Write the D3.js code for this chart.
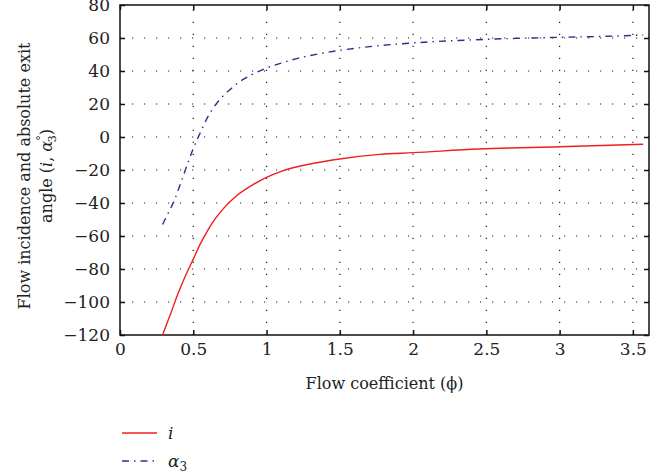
<!DOCTYPE html>
<html>
<head>
<meta charset="utf-8">
<script src="https://cdn.jsdelivr.net/npm/d3@7"></script>
<style>
	body { margin: 0; background: #fff; }
	text { font-family: "DejaVu Serif", serif; fill: #222; }
</style>
</head>
<body>
<div id="container"></div>
<script>
// values
var phiI = [0.29, 0.35, 0.40, 0.45, 0.50, 0.55, 0.60, 0.65, 0.70, 0.75, 0.80, 0.90, 1.00, 1.10, 1.23, 1.45, 1.77, 2.0, 2.45, 3.0, 3.57];
var incidence = [-120, -106, -94, -83.5, -74, -64.5, -56.5, -49.5, -44, -39.3, -35.3, -29.3, -24.5, -20.8, -17.6, -13.9, -10.5, -9.5, -7.3, -5.9, -4.4];

var phiA = [0.29, 0.33, 0.37, 0.41, 0.45, 0.50, 0.55, 0.60, 0.65, 0.70, 0.75, 0.80, 0.90, 1.00, 1.10, 1.22, 1.35, 1.5, 1.75, 2.0, 2.5, 3.0, 3.3, 3.57];
var alpha3 = [-53, -46, -38.5, -29, -19, -7, 3, 12.3, 19.3, 24.5, 28.7, 32.4, 37.8, 41.8, 44.8, 47.8, 50.3, 52.5, 55.2, 57, 59.2, 60.4, 61, 61.8];

var xTicks = [0, 0.5, 1, 1.5, 2, 2.5, 3, 3.5];
var yTicks = [-120, -100, -80, -60, -40, -20, 0, 20, 40, 60, 80];

var w = 668, h = 473;
var mLeft = 120, mRight = 649, mTop = 5, mBottom = 335;

var svg = d3.select("#container")
	.append("svg")
	.attr("width", w)
	.attr("height", h);

var x = d3.scaleLinear().domain([0, 3.61]).range([mLeft, mRight]);
var y = d3.scaleLinear().domain([-120, 80]).range([mBottom, mTop]);

//dotted grid
svg.append("g")
	.selectAll("line")
	.data(xTicks.slice(1))
	.enter()
	.append("line")
	.attr("x1", function(d){ return x(d); })
	.attr("x2", function(d){ return x(d); })
	.attr("y1", mBottom)
	.attr("y2", mTop)
	.attr("stroke", "#222")
	.attr("stroke-width", 1.2)
	.attr("stroke-dasharray", "1.2,10.8");

svg.append("g")
	.selectAll("line")
	.data(yTicks.slice(1, -1))
	.enter()
	.append("line")
	.attr("x1", mLeft)
	.attr("x2", mRight)
	.attr("y1", function(d){ return y(d); })
	.attr("y2", function(d){ return y(d); })
	.attr("stroke", "#222")
	.attr("stroke-width", 1.2)
	.attr("stroke-dasharray", "1.2,10.8");

//axes with inward ticks
function styleAxis(g){
	g.select(".domain").remove();
	g.attr("font-family", "DejaVu Serif, serif").attr("font-size", 17);
	g.selectAll(".tick line").attr("stroke", "#111").attr("stroke-width", 1.5);
	g.selectAll(".tick text").attr("fill", "#333").style("font-size", "17px");
}
var tick = 5;
svg.append("g")
	.attr("transform", "translate(0," + mBottom + ")")
	.call(d3.axisBottom(x).tickValues(xTicks).tickSize(-tick).tickPadding(8).tickFormat(d3.format("")))
	.call(styleAxis);
svg.append("g")
	.attr("transform", "translate(0," + mTop + ")")
	.call(d3.axisTop(x).tickValues(xTicks).tickSize(-tick).tickFormat(""))
	.call(styleAxis);
svg.append("g")
	.attr("transform", "translate(" + mLeft + ",0)")
	.call(d3.axisLeft(y).tickValues(yTicks).tickSize(-tick).tickPadding(10)
		.tickFormat(function(d){ return d < 0 ? "\u2212" + (-d) : d; }))
	.call(styleAxis);
svg.append("g")
	.attr("transform", "translate(" + mRight + ",0)")
	.call(d3.axisRight(y).tickValues(yTicks).tickSize(-tick).tickFormat(""))
	.call(styleAxis);

svg.append("rect")
	.attr("x", mLeft)
	.attr("y", mTop)
	.attr("width", mRight - mLeft)
	.attr("height", mBottom - mTop)
	.attr("fill", "none")
	.attr("stroke", "#111")
	.attr("stroke-width", 1.5);

//curves
var line = d3.line()
	.x(function(d){ return x(d[0]); })
	.y(function(d){ return y(d[1]); })
	.curve(d3.curveMonotoneX);

svg.append("path")
	.datum(d3.zip(phiI, incidence))
	.attr("d", line)
	.attr("fill", "none")
	.attr("stroke", "#f01e1e")
	.attr("stroke-width", 1.4);

svg.append("path")
	.datum(d3.zip(phiA, alpha3))
	.attr("d", line)
	.attr("fill", "none")
	.attr("stroke", "#26338a")
	.attr("stroke-width", 1.4)
	.attr("stroke-dasharray", "7,5,1.5,5");

//axis labels
svg.append("text")
	.attr("x", (mLeft + mRight) / 2)
	.attr("y", 389)
	.attr("text-anchor", "middle")
	.style("font-size", "16px")
	.text("Flow coefficient (\u03D5)");

var yl = svg.append("g")
	.attr("transform", "translate(0,176) rotate(-90)");
yl.append("text")
	.attr("x", 0)
	.attr("y", 30)
	.attr("text-anchor", "middle")
	.style("font-size", "16px")
	.text("Flow incidence and absolute exit");
var yl2 = yl.append("text")
	.attr("x", 0)
	.attr("y", 52)
	.attr("text-anchor", "middle")
	.style("font-size", "16px");
yl2.append("tspan").text("angle (");
yl2.append("tspan").style("font-style", "italic").text("i");
yl2.append("tspan").text(", ");
yl2.append("tspan").style("font-style", "italic").text("\u03B1");
yl2.append("tspan").attr("dy", -7).style("font-size", "11px").text("\u00B0");
yl2.append("tspan").attr("dx", -7).attr("dy", 11).style("font-size", "11px").text("3");
yl2.append("tspan").attr("dy", -4).text(")");

//legend
var legend = [
	{ name: "i", color: "#f01e1e", dash: null, sub: "" },
	{ name: "\u03B1", color: "#26338a", dash: "7,5,1.5,5", sub: "3" }
];
var lg = svg.selectAll("g.legend")
	.data(legend)
	.enter()
	.append("g")
	.attr("transform", function(d, i){ return "translate(122," + (433 + i * 28) + ")"; });
lg.append("line")
	.attr("x1", 0)
	.attr("x2", 35)
	.attr("stroke", function(d){ return d.color; })
	.attr("stroke-width", 1.4)
	.attr("stroke-dasharray", function(d){ return d.dash; });
var lt = lg.append("text")
	.attr("x", 46)
	.attr("y", 6)
	.style("font-size", "17px");
lt.append("tspan").style("font-style", "italic").text(function(d){ return d.name; });
lt.append("tspan").attr("dy", 4).style("font-size", "12px").text(function(d){ return d.sub; });
</script>
</body>
</html>
